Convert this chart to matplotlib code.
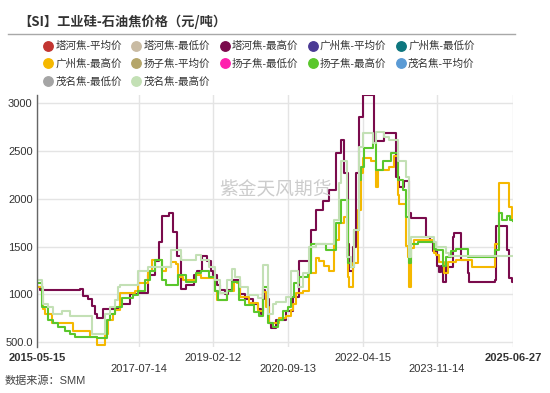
import matplotlib
matplotlib.use("Agg")
import matplotlib.pyplot as plt
import matplotlib.dates as mdates
from matplotlib.lines import Line2D
import pandas as pd

plt.rcParams['font.family'] = ['Liberation Sans', 'Noto Sans CJK SC', 'DejaVu Sans']

legend_names = ['塔河焦-平均价', '塔河焦-最低价', '塔河焦-最高价', '广州焦-平均价', '广州焦-最低价',
                '广州焦-最高价', '扬子焦-平均价', '扬子焦-最低价', '扬子焦-最高价', '茂名焦-平均价',
                '茂名焦-最低价', '茂名焦-最高价']
legend_colors = ['#c23531', '#c9bba3', '#7a0b4c', '#4a3a94', '#0d767e',
                 '#f5b800', '#b5a66a', '#ff1fae', '#5ac72c', '#5b9bd5',
                 '#a5a5a5', '#c3e0b5']

# 塔河焦-最高价
tahe_max_dates = ['2015-05-15', '2015-06-07', '2016-04-13', '2016-05-07', '2016-06-14', '2016-07-16',
                  '2016-08-08', '2016-08-24', '2016-10-10', '2017-02-19', '2017-05-09', '2017-07-10',
                  '2017-09-26', '2017-11-20', '2017-12-14', '2018-01-14', '2018-03-02', '2018-04-02',
                  '2018-05-03', '2018-06-03', '2018-07-12', '2018-09-13', '2018-10-06', '2018-11-14',
                  '2018-12-23', '2019-01-23', '2019-02-08', '2019-03-16', '2019-04-08', '2019-05-17',
                  '2019-06-10', '2019-07-11', '2019-09-11', '2019-10-20', '2019-12-14', '2020-01-22',
                  '2020-02-14', '2020-03-01', '2020-03-17', '2020-04-17', '2020-05-03', '2020-06-11',
                  '2020-08-27', '2020-10-21', '2020-12-07', '2021-03-10', '2021-04-18', '2021-06-12',
                  '2021-07-29', '2021-09-21', '2021-10-30', '2021-11-22', '2021-12-23', '2021-12-31',
                  '2022-01-31', '2022-02-23', '2022-03-19', '2022-04-19', '2022-07-14', '2022-09-30',
                  '2023-01-01', '2023-01-24', '2023-03-04', '2023-04-12', '2023-04-28', '2023-08-23',
                  '2023-09-23', '2023-10-17', '2023-11-17', '2023-12-02', '2023-12-18', '2024-01-02',
                  '2024-01-26', '2024-03-20', '2024-03-28', '2024-05-22', '2024-07-15', '2024-07-23',
                  '2025-02-03', '2025-02-11', '2025-04-15', '2025-05-08', '2025-05-24', '2025-06-16',
                  '2025-06-27']
tahe_max = [1080, 1050, 1060, 980, 950, 880,
            800, 750, 850, 900, 1000, 1020,
            1200, 1350, 1550, 1820, 1850, 1650,
            1400, 1060, 1100, 1200, 1250, 1400,
            1350, 1250, 1200, 1100, 1050, 1000,
            1050, 1150, 1000, 950, 900, 850,
            800, 1050, 950, 700, 650, 730,
            830, 970, 1350, 1670, 1880, 1980,
            2090, 2480, 2610, 2270, 1530, 1250,
            1500, 2270, 2850, 3080, 2600, 2690,
            2230, 2120, 2190, 1850, 1800, 1600,
            1550, 1450, 1300, 1230, 1300, 1130,
            1290, 1600, 1640, 1360, 1220, 1130,
            1150, 1720, 1720, 1460, 1170, 1130,
            1130]

# 广州焦-最高价
gz_max_dates = ['2015-05-15', '2015-06-23', '2015-07-01', '2015-07-16', '2015-09-08', '2016-02-19',
                '2016-06-30', '2016-08-24', '2016-10-25', '2016-11-18', '2016-12-27', '2017-01-11',
                '2017-02-19', '2017-06-17', '2017-07-10', '2017-09-26', '2017-10-27', '2018-01-14',
                '2018-02-07', '2018-03-18', '2018-04-25', '2018-05-11', '2018-06-19', '2018-09-29',
                '2018-11-06', '2019-02-28', '2019-03-16', '2019-06-02', '2019-07-19', '2019-08-19',
                '2019-09-11', '2019-11-13', '2020-01-22', '2020-03-01', '2020-03-25', '2020-04-17',
                '2020-07-04', '2020-08-27', '2020-10-05', '2020-10-21', '2020-11-13', '2021-01-07',
                '2021-02-23', '2021-04-18', '2021-05-12', '2021-06-20', '2021-07-29', '2021-09-05',
                '2021-10-14', '2021-11-22', '2021-12-23', '2021-12-31', '2022-01-31', '2022-03-11',
                '2022-04-03', '2022-04-19', '2022-06-20', '2022-07-29', '2022-08-14', '2022-11-08',
                '2022-12-16', '2023-01-17', '2023-01-24', '2023-03-20', '2023-04-04', '2023-04-12',
                '2023-04-28', '2023-05-21', '2023-10-24', '2023-11-09', '2023-12-02', '2024-01-10',
                '2024-02-10', '2024-04-13', '2024-08-08', '2025-01-11', '2025-02-03', '2025-03-06',
                '2025-04-15', '2025-05-24', '2025-06-16', '2025-06-27']
gz_max = [1080, 1000, 850, 800, 700, 620,
          550, 470, 590, 730, 800, 840,
          1010, 1040, 1120, 1250, 1360, 1250,
          1290, 1340, 1320, 1180, 1150, 1200,
          1170, 1040, 940, 1040, 1130, 1120,
          970, 910, 830, 1030, 870, 700,
          750, 770, 840, 900, 1010, 1040,
          1220, 1380, 1350, 1300, 1240, 1570,
          1750, 1810, 1180, 1080, 1330, 1880,
          2270, 2430, 2400, 2120, 2300, 2330,
          2450, 2040, 1950, 1510, 1390, 1080,
          1490, 1570, 1430, 1410, 1340, 1220,
          1340, 1360, 1290, 1290, 1530, 2160,
          2160, 1910, 1780, 1770]

# 扬子焦-最高价
yz_max_dates = ['2015-05-15', '2015-06-23', '2015-08-08', '2015-09-16', '2015-10-25', '2015-12-18',
                '2016-01-26', '2016-03-05', '2016-08-24', '2016-11-10', '2016-12-03', '2017-01-11',
                '2017-03-07', '2017-06-01', '2017-07-10', '2017-09-03', '2017-10-12', '2017-11-20',
                '2018-01-14', '2018-02-07', '2018-05-11', '2018-07-12', '2018-09-29', '2018-11-06',
                '2019-01-08', '2019-02-28', '2019-03-23', '2019-06-02', '2019-07-11', '2019-08-27',
                '2019-10-20', '2019-12-22', '2020-01-30', '2020-03-01', '2020-04-09', '2020-05-18',
                '2020-06-26', '2020-08-04', '2020-09-12', '2020-10-05', '2020-10-29', '2020-12-07',
                '2021-02-15', '2021-03-10', '2021-07-05', '2021-09-21', '2021-10-30', '2021-12-23',
                '2022-01-15', '2022-02-08', '2022-03-19', '2022-04-03', '2022-04-27', '2022-07-06',
                '2022-07-29', '2022-09-22', '2022-11-23', '2023-01-17', '2023-02-24', '2023-03-20',
                '2023-04-12', '2023-04-28', '2023-06-22', '2023-10-24', '2023-11-09', '2024-01-02',
                '2024-01-26', '2024-03-05', '2024-04-13', '2024-07-15', '2025-02-03', '2025-03-06',
                '2025-03-30', '2025-05-08', '2025-06-01', '2025-06-27']
yz_max = [1120, 870, 730, 700, 660, 620,
          590, 550, 540, 730, 800, 870,
          960, 990, 1040, 1150, 1250, 1360,
          1150, 1100, 1200, 1130, 1220, 1250,
          1180, 1040, 940, 1040, 1130, 940,
          890, 820, 770, 1080, 700, 660,
          730, 830, 870, 970, 1120, 1180,
          1220, 1530, 1460, 1750, 1990, 1330,
          1290, 1670, 2200, 2330, 2530, 2580,
          2300, 2400, 2480, 2200, 2090, 1810,
          1330, 1530, 1550, 1480, 1460, 1300,
          1390, 1450, 1470, 1390, 1460, 1850,
          1780, 1820, 1780, 1770]

# 茂名焦-最高价
mm_max_dates = ['2015-05-15', '2015-06-23', '2015-07-01', '2015-08-08', '2015-09-16', '2015-11-25',
                '2016-01-26', '2016-07-16', '2016-10-25', '2016-12-03', '2017-01-11', '2017-02-03',
                '2017-02-19', '2017-07-10', '2017-09-26', '2018-03-18', '2018-06-03', '2018-09-29',
                '2018-11-06', '2019-01-08', '2019-02-28', '2019-04-08', '2019-06-02', '2019-07-11',
                '2019-08-03', '2019-09-11', '2019-11-05', '2020-01-22', '2020-03-01', '2020-04-09',
                '2020-05-18', '2020-06-11', '2020-08-27', '2020-10-05', '2020-11-29', '2021-01-07',
                '2021-02-23', '2021-04-18', '2021-09-05', '2021-10-14', '2021-10-30', '2021-12-15',
                '2022-01-15', '2022-02-08', '2022-03-19', '2022-04-19', '2022-07-06', '2022-07-29',
                '2022-09-30', '2022-11-08', '2023-01-17', '2023-03-20', '2023-04-12', '2023-04-28',
                '2023-10-24', '2023-11-09', '2024-01-26', '2024-02-18', '2025-06-27']
mm_max = [1150, 1080, 900, 870, 800, 830,
          770, 590, 800, 870, 940, 1080,
          1100, 1250, 1290, 1460, 1360, 1410,
          1360, 1290, 1150, 1010, 1150, 1270,
          1180, 1080, 990, 960, 1310, 800,
          900, 920, 970, 1250, 1080, 1220,
          1500, 1530, 1780, 2160, 2390, 1390,
          1290, 1670, 2540, 2690, 2580, 2700,
          2650, 2610, 2390, 2230, 1390, 1600,
          1550, 1500, 1430, 1400, 1400]

x_ticks = ['2015-05-15', '2017-07-14', '2019-02-12', '2020-09-13', '2022-04-15', '2023-11-14', '2025-06-27']
y_ticks = [500, 1000, 1500, 2000, 2500, 3000]
y_tick_labels = ['500.0', '1000', '1500', '2000', '2500', '3000']

fig = plt.figure(figsize=(5.5, 3.93), dpi=100)
ax = fig.add_axes([0.067, 0.117, 0.866, 0.641])

visible = [(tahe_max_dates, tahe_max, 2), (gz_max_dates, gz_max, 5),
           (yz_max_dates, yz_max, 8), (mm_max_dates, mm_max, 11)]
for d, v, k in visible:
    ax.plot(pd.to_datetime(d), v, color=legend_colors[k], lw=1.5, drawstyle='steps-post')

ax.set_xlim(pd.Timestamp('2015-05-15'), pd.Timestamp('2025-06-27'))
ax.set_ylim(450, 3084)

ax.set_yticks(y_ticks)
ax.set_yticklabels(y_tick_labels)
xt = pd.to_datetime(x_ticks)
ax.set_xticks(xt)
ax.set_xticklabels([t if i % 2 == 0 else '\n' + t for i, t in enumerate(x_ticks)])
labs = ax.get_xticklabels()
labs[0].set_fontweight('bold')
labs[-1].set_fontweight('bold')

ax.tick_params(axis='both', length=0, labelsize=8, labelcolor='#333333')
ax.tick_params(axis='y', pad=3)
ax.tick_params(axis='x', pad=4)
ax.grid(True, color='#e4e4e4', lw=1)
ax.set_axisbelow(True)
for s in ['top', 'right', 'bottom']:
    ax.spines[s].set_visible(False)
ax.spines['left'].set_color('#666666')
ax.spines['left'].set_linewidth(1)

# watermark
ax.text(0.5, 0.625, '紫金天风期货', transform=ax.transAxes, ha='center', va='center',
        fontsize=13.5, color='#cccccc', family=['Noto Sans CJK SC'])

# title and rule
fig.text(0.033, 0.944, '【SI】工业硅-石油焦价格（元/吨）', fontsize=9.5, fontweight='bold',
         color='#333333', va='center', family=['Noto Sans CJK SC'])
fig.add_artist(Line2D([0.015, 0.937], [0.913, 0.913], color='#a8a8a8', lw=1))

# legend is filled column by column, so reorder to read row by row
order = [0, 5, 10, 1, 6, 11, 2, 7, 3, 8, 4, 9]
handles = [Line2D([], [], ls='', marker='o', ms=6.8, color=legend_colors[i]) for i in order]
fig.legend(handles, [legend_names[i] for i in order], ncol=5, loc='upper left',
           bbox_to_anchor=(0.08, 0.896),
           frameon=False, fontsize=7.6, handlelength=0.8, handletextpad=0.3,
           columnspacing=0.95, labelspacing=0.7, borderaxespad=0, borderpad=0,
           labelcolor='#333333')

fig.text(0.008, 0.03, '数据来源：SMM', fontsize=8, color='#444444', va='center')

fig.savefig('out.png', dpi=100)
